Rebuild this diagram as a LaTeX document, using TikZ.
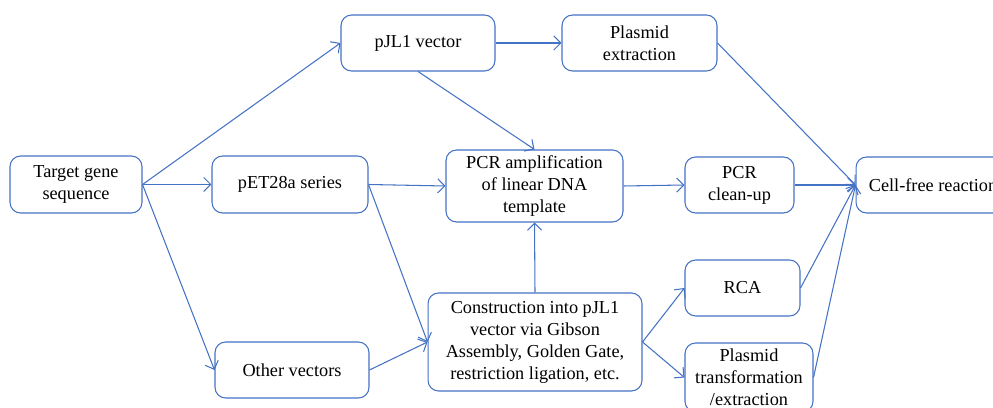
\documentclass[tikz,border=0pt]{standalone}
\usepackage{fontspec}
\setmainfont{Liberation Serif}
\definecolor{flowBlue}{HTML}{4472C4}
\usetikzlibrary{arrows.meta, positioning}

\begin{document}
\begin{tikzpicture}[
    x=0.02cm, y=-0.02cm,
    box/.style={
      rounded corners=6pt,
      draw=flowBlue,
      fill=white,
      text=black,
      minimum width=3.08cm,
      minimum height=1.12cm,
      align=center,
      font=\rmfamily\fontsize{10.4}{12.5}\selectfont,
      line width=0.6pt,
      inner sep=2pt,
    },
    arr/.style={-{Straight Barb[length=4pt, width=8pt]}, flowBlue, line width=0.6pt},
  ]
    \useasboundingbox (0,0) rectangle (993,408);

    % Source
    \node[box, minimum width=2.64cm, minimum height=1.14cm] (target) at (76,184.5) {Target gene\\sequence};

    % Vectors
    \node[box] (pjl) at (418,43) {pJL1 vector};
    \node[box, minimum width=3.12cm, minimum height=1.14cm] (pet) at (290,184.5) {pET28a series};
    \node[box] (other) at (292,370) {Other vectors};

    % Template preparation
    \node[box, minimum width=3.1cm] (extract) at (639.5,43) {Plasmid\\extraction};
    \node[box, minimum width=3.54cm, minimum height=1.44cm] (pcr) at (534.5,186) {PCR amplification\\of linear DNA\\template};
    \node[box, minimum width=4.28cm, minimum height=1.96cm] (build) at (535,342) {Construction into pJL1\\vector via Gibson\\Assembly, Golden Gate,\\restriction ligation, etc.};
    \node[box, minimum width=2.18cm] (cleanup) at (739.5,185) {PCR\\clean-up};
    \node[box, minimum width=2.3cm] (rca) at (742.5,288) {RCA};
    \node[box, minimum width=2.56cm, minimum height=1.38cm] (transform) at (749,377.5) {Plasmid\\transformation\\/extraction};

    % Sink
    \node[box] (cellfree) at (933,185) {Cell-free reaction};

    \draw[arr] (target.east) -- (pjl.west);
    \draw[arr] (target.east) -- (pet.west);
    \draw[arr] (target.east) -- (other.west);
    \draw[arr] (pjl.east) -- (extract.west);
    \draw[arr] (pjl.south) -- (pcr.north);
    \draw[arr] (pet.east) -- (pcr.west);
    \draw[arr] (pet.east) -- (build.west);
    \draw[arr] (other.east) -- (build.west);
    \draw[arr] (build.north) -- (pcr.south);
    \draw[arr] (pcr.east) -- (cleanup.west);
    \draw[arr] (build.east) -- (rca.west);
    \draw[arr] (build.east) -- (transform.west);
    \draw[arr] (extract.east) -- (cellfree.west);
    \draw[arr] (cleanup.east) -- (cellfree.west);
    \draw[arr] (rca.east) -- (cellfree.west);
    \draw[arr] (transform.east) -- (cellfree.west);
  \end{tikzpicture}
\end{document}
